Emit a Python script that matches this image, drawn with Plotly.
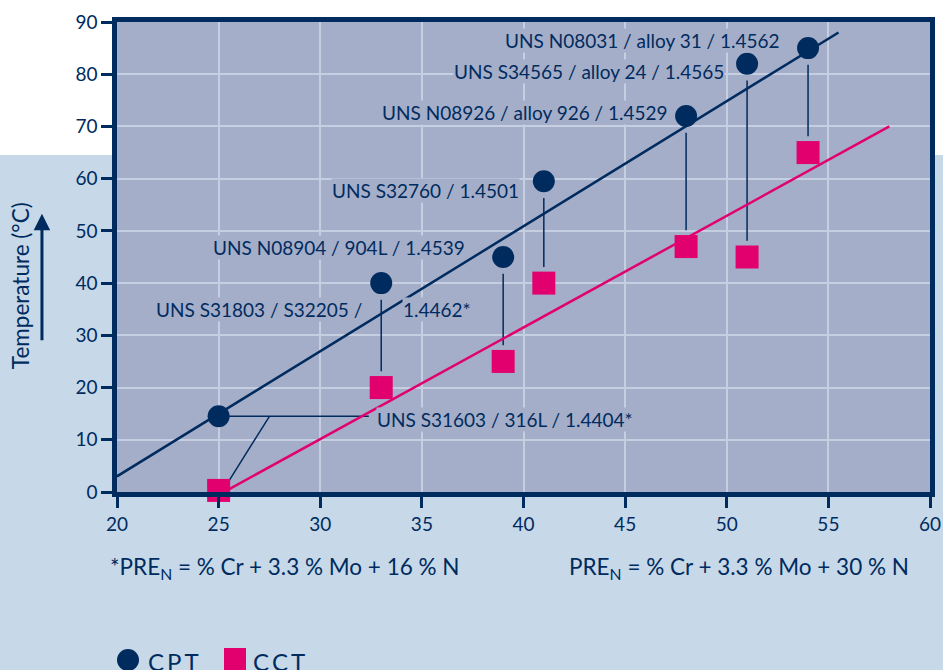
import plotly.graph_objects as go

# PRE_N values of the alloys and their critical temperatures (°C)
pre_n = [25, 33, 39, 41, 48, 51, 54]
cpt = [14.5, 40, 45, 59.5, 72, 82, 85]
cct = [0.3, 20, 25, 40, 47, 45, 65]

# Fitted trend lines
cpt_fit_x = [20, 55.5]
cpt_fit_y = [3, 88]
cct_fit_x = [25.5, 58]
cct_fit_y = [0.5, 70]

x_ticks = [20, 25, 30, 35, 40, 45, 50, 55, 60]
y_ticks = [0, 10, 20, 30, 40, 50, 60, 70, 80, 90]

# Alloy designations: (text, x, y, anchor)
alloy_labels = [
    ("UNS N08031 / alloy 31 / 1.4562", 52.67, 86.4, "right"),
    ("UNS S34565 / alloy 24 / 1.4565", 49.9, 80.5, "right"),
    ("UNS N08926 / alloy 926 / 1.4529", 47.16, 72.6, "right"),
    ("UNS S32760 / 1.4501", 39.83, 57.8, "right"),
    ("UNS N08904 / 904L / 1.4539", 37.17, 46.9, "right"),
    ("UNS S31803 / S32205 /", 32.1, 34.9, "right"),
    ("1.4462*", 34.0, 34.9, "left"),
    ("UNS S31603 / 316L / 1.4404*", 32.74, 13.8, "left"),
]

NAVY = "#002b5e"
MAGENTA = "#e2006f"
PLOT_BG = "#a4aec9"
GRID = "#c6cee1"
PAGE_BLUE = "#c7d9e9"
FONT = "Lato"

fig = go.Figure()

# Leader lines from each CPT point down to its CCT point
cx, cy = [], []
for x, a, b in zip(pre_n[1:], cpt[1:], cct[1:]):
    cx += [x, x, None]
    cy += [a - 3.2, b + 3.1, None]
# 316L: horizontal leader to its label plus a branch to the CCT point
lx = alloy_labels[-1][1] - 0.35
cx += [pre_n[0], lx, None, 27.5, pre_n[0] + 0.5, None]
cy += [cpt[0], cpt[0], None, cpt[0], cct[0] + 1.8, None]
fig.add_trace(go.Scatter(x=cx, y=cy, mode="lines",
                         line=dict(color=NAVY, width=1.5),
                         hoverinfo="skip", showlegend=False))

fig.add_trace(go.Scatter(x=cpt_fit_x, y=cpt_fit_y, mode="lines",
                         line=dict(color=NAVY, width=2.5), showlegend=False))
fig.add_trace(go.Scatter(x=cct_fit_x, y=cct_fit_y, mode="lines",
                         line=dict(color=MAGENTA, width=2.5), showlegend=False))

fig.add_trace(go.Scatter(x=pre_n, y=cpt, mode="markers", name="CPT",
                         marker=dict(symbol="circle", size=22, color=NAVY,
                                     line=dict(width=0)),
                         showlegend=False, cliponaxis=False))
fig.add_trace(go.Scatter(x=pre_n, y=cct, mode="markers", name="CCT",
                         marker=dict(symbol="square", size=23, color=MAGENTA,
                                     line=dict(width=0)),
                         showlegend=False, cliponaxis=False))

annotations = []
for text, x, y, anchor in alloy_labels:
    annotations.append(dict(x=x, y=y, xref="x", yref="y", text=text,
                            showarrow=False, xanchor=anchor, yanchor="middle",
                            bgcolor=PLOT_BG, borderpad=0,
                            font=dict(family=FONT, size=19, color=NAVY)))

# Formula notes under the x axis
annotations.append(dict(x=-0.011, y=-0.162, xref="paper", yref="paper",
                        text="*PRE<sub>N</sub> = % Cr + 3.3 % Mo + 16 % N",
                        showarrow=False, xanchor="left", yanchor="middle",
                        font=dict(family=FONT, size=22.5, color=NAVY)))
annotations.append(dict(x=0.5535, y=-0.162, xref="paper", yref="paper",
                        text="PRE<sub>N</sub> = % Cr + 3.3 % Mo + 30 % N",
                        showarrow=False, xanchor="left", yanchor="middle",
                        font=dict(family=FONT, size=22.5, color=NAVY)))

# Y-axis title with upward arrow
annotations.append(dict(x=-0.1193, y=0.438, xref="paper", yref="paper",
                        text="Temperature (°C)", textangle=-90,
                        showarrow=False, xanchor="center", yanchor="middle",
                        font=dict(family=FONT, size=22.5, color=NAVY)))
annotations.append(dict(x=-0.0923, y=0.592, xref="paper", yref="paper",
                        ax=0, ay=128, text="", showarrow=True,
                        arrowhead=2, arrowsize=1.1, arrowwidth=3,
                        arrowcolor=NAVY))

# Legend keys
annotations.append(dict(x=(146 - 117) / 813, y=-0.36, xref="paper", yref="paper",
                        text="C\u2009P\u2009T", showarrow=False,
                        xanchor="left", yanchor="middle",
                        font=dict(family=FONT, size=24, color=NAVY)))
annotations.append(dict(x=(251 - 117) / 813, y=-0.36, xref="paper", yref="paper",
                        text="C\u2009C\u2009T", showarrow=False,
                        xanchor="left", yanchor="middle",
                        font=dict(family=FONT, size=24, color=NAVY)))

shapes = [
    # white band across the top of the page
    dict(type="rect", xref="paper", yref="paper", x0=-0.2, x1=1.1, y0=1.0, y1=1.1,
         fillcolor="white", line=dict(width=0), layer="below"),
    dict(type="rect", xref="paper", yref="paper", x0=-0.2, x1=0.0, y0=0.717, y1=1.0,
         fillcolor="white", line=dict(width=0), layer="below"),
    dict(type="rect", xref="paper", yref="paper", x0=1.0, x1=1.1, y0=0.717, y1=1.0,
         fillcolor="white", line=dict(width=0), layer="below"),
    # legend symbols
    dict(type="circle", xref="paper", yref="paper",
         x0=(117 - 117) / 813, x1=(139 - 117) / 813,
         y0=(492 - 671) / 470, y1=(492 - 649) / 470,
         fillcolor=NAVY, line=dict(width=0)),
    dict(type="rect", xref="paper", yref="paper",
         x0=(224 - 117) / 813, x1=(246 - 117) / 813,
         y0=(492 - 671) / 470, y1=(492 - 648) / 470,
         fillcolor=MAGENTA, line=dict(width=0)),
]

axis_common = dict(showline=True, mirror=True, linecolor=NAVY, linewidth=4.5,
                   ticks="outside", ticklen=11, tickwidth=2.5, tickcolor=NAVY,
                   showgrid=True, gridcolor=GRID, gridwidth=2, zeroline=False,
                   automargin=False,
                   tickfont=dict(family=FONT, size=19, color=NAVY))

fig.update_layout(
    width=943, height=670,
    margin=dict(l=117, r=13, t=22, b=178),
    paper_bgcolor=PAGE_BLUE, plot_bgcolor=PLOT_BG,
    xaxis=dict(range=[20, 60], tickvals=x_ticks, **axis_common),
    yaxis=dict(range=[0, 90], tickvals=y_ticks, **axis_common),
    annotations=annotations, shapes=shapes,
    showlegend=False,
)

fig.write_html("out.html")
